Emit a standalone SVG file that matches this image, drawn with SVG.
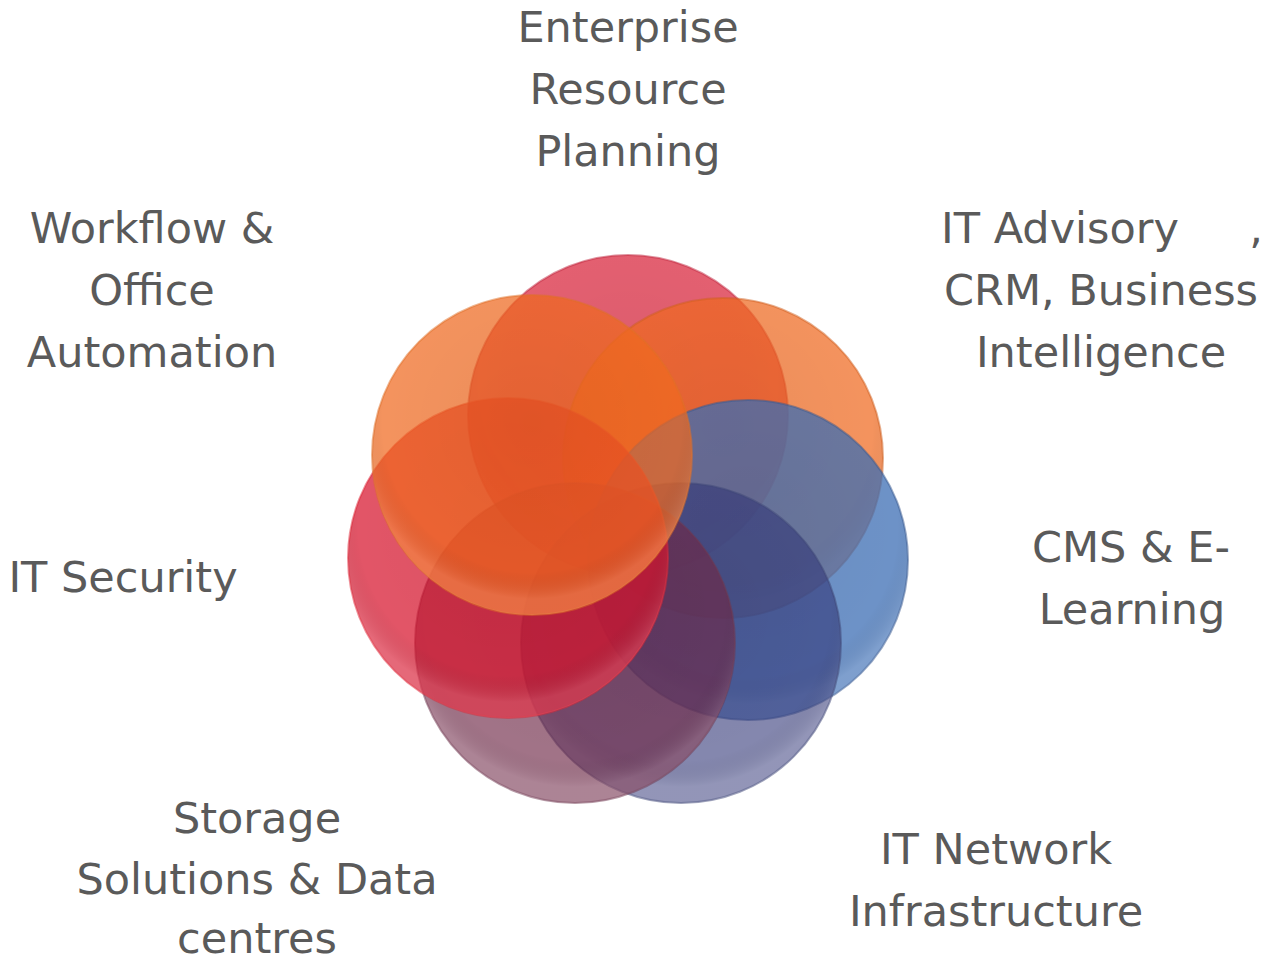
<svg xmlns="http://www.w3.org/2000/svg" width="1268" height="962" viewBox="0 0 1268 962">
<style>
.lbl{font-family:"DejaVu Sans","Liberation Sans",sans-serif;font-size:43px;fill:#5a5a5a;text-anchor:middle}
.c{stroke-width:2;stroke-opacity:0.5}
</style>
<defs>
<radialGradient id="shade" cx="50%" cy="40%" r="55%">
<stop offset="0" stop-color="#000" stop-opacity="0.04"/>
<stop offset="0.85" stop-color="#000" stop-opacity="0"/>
<stop offset="1" stop-color="#fff" stop-opacity="0.12"/>
</radialGradient>
</defs>
<rect width="1268" height="962" fill="#fff"/>
<g id="circles">
<g id="c-erp"><circle class="c" cx="628" cy="415" r="160" fill="#d7142d" fill-opacity="0.68" stroke="#c02840"/><circle cx="628" cy="415" r="160" fill="url(#shade)"/></g>
<g id="c-advisory"><circle class="c" cx="723" cy="458" r="160" fill="#f06a20" fill-opacity="0.72" stroke="#d06020"/><circle cx="723" cy="458" r="160" fill="url(#shade)"/></g>
<g id="c-cms"><circle class="c" cx="748" cy="560" r="160" fill="#3c6eb4" fill-opacity="0.75" stroke="#3a5a90"/><circle cx="748" cy="560" r="160" fill="url(#shade)"/></g>
<g id="c-network"><circle class="c" cx="681" cy="643" r="160" fill="#323778" fill-opacity="0.6" stroke="#404878"/><circle cx="681" cy="643" r="160" fill="url(#shade)"/></g>
<g id="c-storage"><circle class="c" cx="575" cy="643" r="160" fill="#6e2846" fill-opacity="0.65" stroke="#703850"/><circle cx="575" cy="643" r="160" fill="url(#shade)"/></g>
<g id="c-security"><circle class="c" cx="508" cy="558" r="160" fill="#d7142d" fill-opacity="0.72" stroke="#e02838"/><circle cx="508" cy="558" r="160" fill="url(#shade)"/></g>
<g id="c-workflow"><circle class="c" cx="532" cy="455" r="160" fill="#f06a20" fill-opacity="0.72" stroke="#e07028"/><circle cx="532" cy="455" r="160" fill="url(#shade)"/></g>
</g>
<g id="connectors"/>
<g id="n-erp"><text class="lbl" x="628" y="42">Enterprise</text><text class="lbl" x="628" y="104">Resource</text><text class="lbl" x="628" y="166">Planning</text></g>
<g id="n-workflow"><text class="lbl" x="152" y="243">Workflow &amp;</text><text class="lbl" x="152" y="305">Office</text><text class="lbl" x="152" y="367">Automation</text></g>
<g id="n-advisory"><text class="lbl" x="1060" y="243">IT Advisory</text><text class="lbl" x="1256" y="243">,</text><text class="lbl" x="1101" y="305">CRM, Business</text><text class="lbl" x="1101" y="367">Intelligence</text></g>
<g id="n-security"><text class="lbl" x="123" y="592">IT Security</text></g>
<g id="n-cms"><text class="lbl" x="1131" y="562">CMS &amp; E-</text><text class="lbl" x="1132" y="624">Learning</text></g>
<g id="n-storage"><text class="lbl" x="257" y="833">Storage</text><text class="lbl" x="257" y="894">Solutions &amp; Data</text><text class="lbl" x="257" y="953">centres</text></g>
<g id="n-network"><text class="lbl" x="996" y="864">IT Network</text><text class="lbl" x="996" y="926">Infrastructure</text></g>
</svg>
